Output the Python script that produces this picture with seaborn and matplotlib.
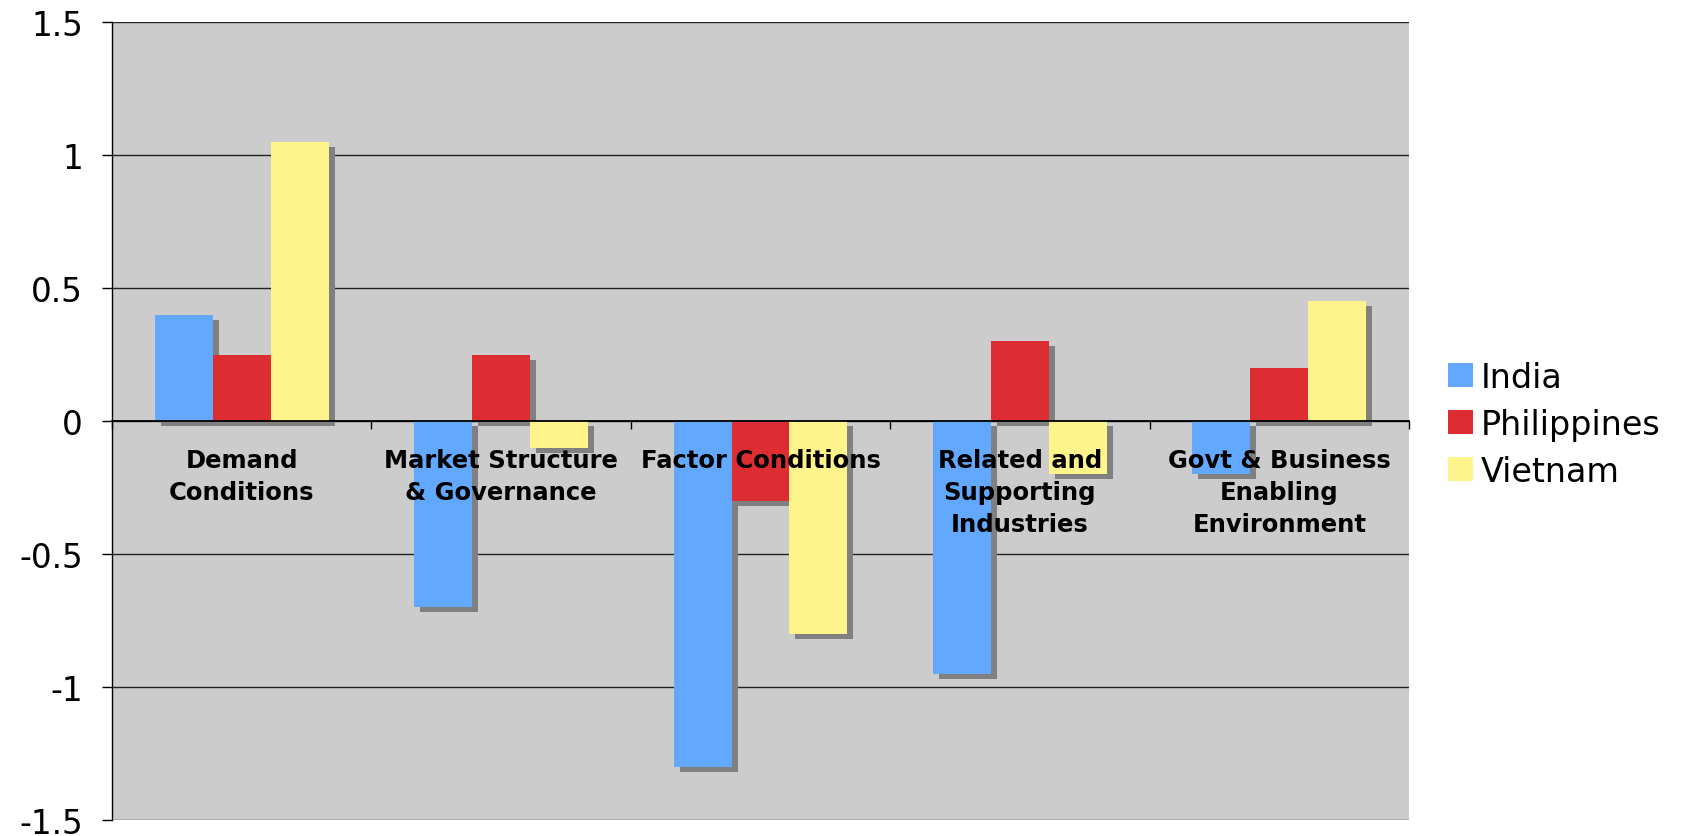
import matplotlib
matplotlib.use("Agg")
import matplotlib.pyplot as plt
import matplotlib.transforms as mtransforms
from matplotlib.patches import Rectangle
import seaborn as sns
import pandas as pd

categories = ["Demand\nConditions", "Market Structure\n& Governance", "Factor Conditions",
              "Related and\nSupporting\nIndustries", "Govt & Business\nEnabling\nEnvironment"]
countries = ["India", "Philippines", "Vietnam"]
india = [0.40, -0.70, -1.30, -0.95, -0.20]
philippines = [0.25, 0.25, -0.30, 0.30, 0.20]
vietnam = [1.05, -0.10, -0.80, -0.20, 0.45]
colors = ["#63A8FF", "#DE2C33", "#FFF48C"]
yticks = [-1.5, -1, -0.5, 0, 0.5, 1, 1.5]
ytick_labels = ["-1.5", "-1", "-0.5", "0", "0.5", "1", "1.5"]

rows = []
for c, vals in zip(countries, [india, philippines, vietnam]):
    for cat, v in zip(categories, vals):
        rows.append({"category": cat, "country": c, "value": v})
df = pd.DataFrame(rows)

sns.set_theme(style="white")
plt.rcParams['font.family'] = ['DejaVu Sans']
plt.rcParams['text.color'] = 'black'
plt.rcParams['xtick.color'] = 'black'
plt.rcParams['ytick.color'] = 'black'

fig = plt.figure(figsize=(16.85, 8.37), dpi=100)
ax = fig.add_axes([0.0665, 0.0191, 0.8362 - 0.0665, 0.9725 - 0.0191])
ax.set_facecolor("#CCCCCC")

sns.barplot(data=df, x="category", y="value", hue="country", order=categories,
            hue_order=countries, palette=colors, width=0.67, saturation=1,
            ax=ax, zorder=3, linewidth=0, errorbar=None)

# shadows
offset = mtransforms.ScaledTranslation(6 / 100, -5 / 100, fig.dpi_scale_trans)
for p in list(ax.patches):
    if p.get_height() == 0 and p.get_width() == 0:
        continue
    r = Rectangle(p.get_xy(), p.get_width(), p.get_height(),
                  transform=ax.transData + offset, facecolor="#808080",
                  edgecolor="none", zorder=2)
    ax.add_patch(r)

ax.set_ylim(-1.5, 1.5)
ax.set_xlim(-0.5, len(categories) - 0.5)
ax.set_yticks(yticks)
ax.set_yticklabels(ytick_labels, fontsize=23.5)
ax.yaxis.grid(True, color="#222222", linewidth=1.0, zorder=1)
ax.set_axisbelow(True)
ax.set_xlabel("")
ax.set_ylabel("")

# x axis at zero
for s in ["top", "right"]:
    ax.spines[s].set_visible(False)
ax.spines["left"].set_color("black")
ax.spines["left"].set_linewidth(1.0)
ax.spines["bottom"].set_position(("data", 0))
ax.spines["bottom"].set_color("black")
ax.spines["bottom"].set_linewidth(1.3)
ax.spines["bottom"].set_zorder(4)
ax.set_xticks([i - 0.5 for i in range(len(categories) + 1)])
ax.set_xticklabels([])
ax.tick_params(axis="x", direction="out", length=6, width=1, color="black", bottom=True)
ax.tick_params(axis="y", direction="out", length=7, width=1, color="black", left=True, pad=14)

text_off = mtransforms.ScaledTranslation(0, -27 / 100, fig.dpi_scale_trans)
for i, cat in enumerate(categories):
    ax.text(i, 0, cat, ha="center", va="top", fontsize=17.5, fontweight="bold",
            linespacing=1.42, transform=ax.transData + text_off, zorder=5, color="black")

handles, labels = ax.get_legend_handles_labels()
ax.legend(handles, labels, loc="center left", bbox_to_anchor=(1.0196, 0.496), frameon=False,
          fontsize=24, handlelength=0.75, handleheight=0.75, handletextpad=0.25,
          labelspacing=0.42, borderaxespad=0)

fig.savefig("out.png", dpi=100)
